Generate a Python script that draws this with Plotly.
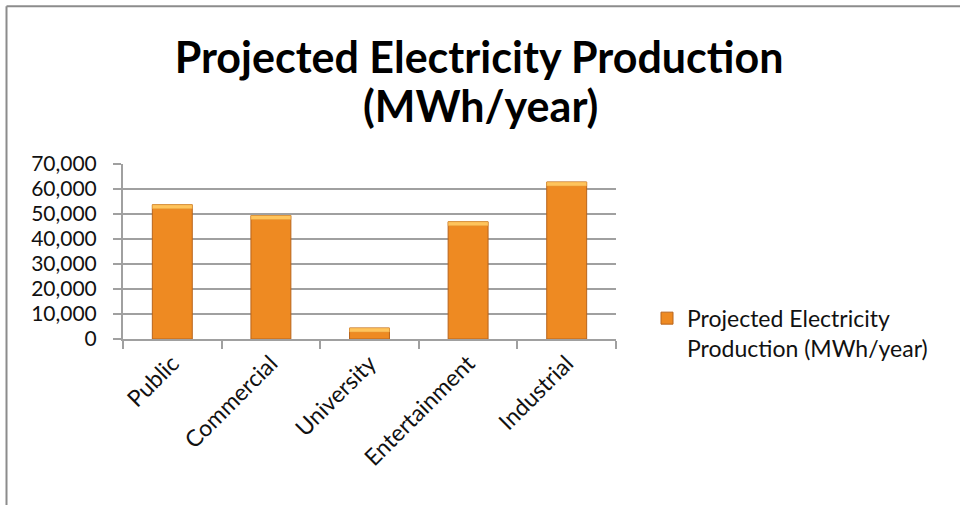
import plotly.graph_objects as go

# Data
categories = ["Public", "Commercial", "University", "Entertainment", "Industrial"]
production = [53700, 49400, 4400, 46900, 62800]
series_name = "Projected Electricity<br>Production (MWh/year)"
title_line1 = "Projected Electricity Production"
title_line2 = "(MWh/year)"
y_ticks = [0, 10000, 20000, 30000, 40000, 50000, 60000, 70000]

# Layout geometry (pixels)
W, H = 960, 505
L, R, T, B = 123, 344, 164.3, 165.7
plot_w = W - L - R
plot_h = H - T - B

FONT = "Lato"
GRID = "#A0A0A0"
TXT = 23
TITLE_SIZE = 43


def py(px):
    """Pixel row from the top -> paper y."""
    return (H - B - px) / plot_h


def px_x(px):
    """Pixel column from the left -> paper x."""
    return (px - L) / plot_w


fig = go.Figure()

# Main bars
fig.add_trace(go.Bar(
    x=categories, y=production, name=series_name,
    marker=dict(color="#EE8A22", line=dict(color="#B8641C", width=1)),
    showlegend=True,
))

# Light bevel band along the top of each bar
bevel = 1600
fig.add_trace(go.Bar(
    x=categories, y=[min(bevel, v) for v in production],
    base=[v - min(bevel, v) for v in production],
    marker=dict(color="#FFC45C", line=dict(color="#E39A3A", width=0.5)),
    showlegend=False, hoverinfo="skip",
))

fig.update_layout(
    width=W, height=H,
    margin=dict(l=L, r=R, t=T, b=B, pad=0),
    paper_bgcolor="white", plot_bgcolor="white",
    barmode="overlay", bargap=0.595,
    font=dict(family=FONT, size=TXT, color="#111111"),
    title=dict(
        text=title_line1, x=0.499, xanchor="center",
        y=1 - 58 / H, yanchor="middle", yref="container",
        font=dict(family=FONT, size=TITLE_SIZE, color="#000000", weight="bold"),
    ),
    annotations=[
        dict(text=title_line2, xref="paper", yref="paper",
             x=px_x(480), y=py(106), xanchor="center", yanchor="middle",
             showarrow=False,
             font=dict(family=FONT, size=TITLE_SIZE, color="#000000", weight="bold")),
    ],
    legend=dict(
        x=px_x(647), y=py(297),
        xanchor="left", yanchor="top", valign="top",
        font=dict(family=FONT, size=TXT, color="#111111"),
        bgcolor="rgba(0,0,0,0)",
    ),
    xaxis=dict(
        type="category", tickangle=-45, tickson="boundaries",
        ticks="outside", ticklen=8, tickwidth=2, tickcolor=GRID,
        showline=True, linecolor=GRID, linewidth=2,
        showgrid=False, tickfont=dict(family=FONT, size=TXT),
    ),
    yaxis=dict(
        range=[0, 70000], tickvals=y_ticks, tickformat=",d",
        ticks="outside", ticklen=8, tickwidth=2, tickcolor=GRID,
        showline=True, linecolor=GRID, linewidth=2,
        showgrid=True, gridcolor=GRID, gridwidth=2,
        zeroline=False, ticklabelstandoff=12,
        tickfont=dict(family=FONT, size=21),
    ),
    shapes=[
        # chart frame (left and top edges)
        dict(type="line", xref="paper", yref="paper",
             x0=px_x(6.5), x1=px_x(6.5), y0=py(6.5), y1=py(520),
             line=dict(color="#8C8C8C", width=2)),
        dict(type="line", xref="paper", yref="paper",
             x0=px_x(6.5), x1=px_x(975), y0=py(6.5), y1=py(6.5),
             line=dict(color="#8C8C8C", width=2)),
    ],
)

fig.write_html("out.html")
